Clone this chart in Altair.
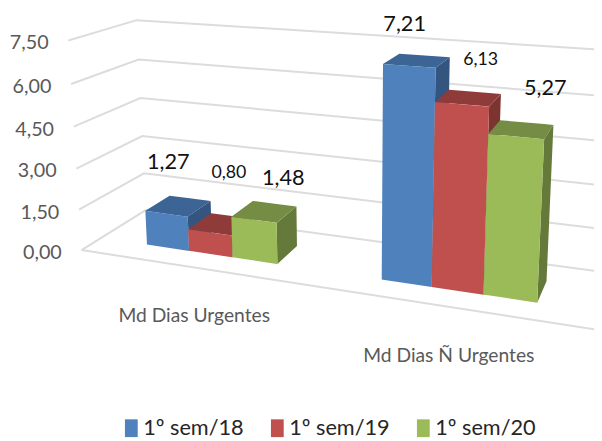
import altair as alt
import numpy as np
import pandas as pd

categories = ["Md Dias Urgentes", "Md Dias Ñ Urgentes"]
series = ["1º sem/18", "1º sem/19", "1º sem/20"]
values_18 = [1.27, 7.21]
values_19 = [0.80, 6.13]
values_20 = [1.48, 5.27]
ticks = [0.0, 1.5, 3.0, 4.5, 6.0, 7.5]
tick_labels = ["0,00", "1,50", "3,00", "4,50", "6,00", "7,50"]
value_labels = [["1,27", "7,21"], ["0,80", "6,13"], ["1,48", "5,27"]]

front_colors = ["#4F81BD", "#C0504D", "#9BBB59"]
top_colors = ["#3C6494", "#8F3B39", "#748C43"]
side_colors = ["#34557F", "#7C3432", "#657A3A"]
FONT = "Lato"

W, H = 594, 433
OX, OY = 8, 8
# Observed page-to-picture shrink, compensated in the projection
SHRINK, SHIFT_X, SHIFT_Y = 0.987, 0.5, 2.25

# Bar layout in scene units (u along the category axis, w along depth)
U0, BW, CAT, W0, W1 = 0.10766, 0.09576, 0.4982, 0.28523, 0.68047

# Calibration of the 3D camera: box corners, then bar corners as
# (group, bar edge, 0 front / 1 back, value, picture x, picture y)
box = [(0, 0, 0, 82, 250), (0, 0, 7.5, 69, 39), (0, 1, 0, 146, 209), (0, 1, 7.5, 137, 19), (1, 0, 0, 595, 329)]
bars = [
    (0, 0, 0, 0, 148, 244), (0, 1, 0, 0, 189, 250), (0, 0, 0, 1.27, 146, 210), (0, 1, 0, 1.27, 189, 217),
    (0, 0, 1, 1.27, 170, 196), (0, 1, 1, 1.27, 211, 201), (0, 1, 0, 0.8, 189, 228), (0, 2, 0, 0.8, 232, 234),
    (0, 2, 0, 0, 232, 257), (0, 2, 0, 1.48, 232, 217), (0, 3, 0, 1.48, 278, 223), (0, 3, 0, 0, 278, 263),
    (0, 2, 1, 1.48, 253, 201), (0, 3, 1, 1.48, 297, 206), (0, 3, 1, 0, 297, 242),
    (1, 0, 0, 7.21, 383, 63), (1, 1, 0, 7.21, 436, 67), (1, 0, 0, 0, 382, 279), (1, 1, 0, 0, 432, 287),
    (1, 0, 1, 7.21, 399, 53), (1, 1, 1, 7.21, 450, 57), (1, 1, 0, 6.13, 436, 101), (1, 2, 0, 6.13, 490, 106),
    (1, 2, 0, 0, 484, 294), (1, 1, 1, 6.13, 452, 89), (1, 2, 1, 6.13, 501, 94), (1, 2, 0, 5.27, 488, 133),
    (1, 3, 0, 5.27, 545, 137), (1, 3, 0, 0, 538, 302), (1, 2, 1, 5.27, 502, 120), (1, 3, 1, 5.27, 553, 125),
    (1, 3, 1, 0, 548, 280),
]


def bu(g, s):
    return g * CAT + U0 + s * BW


cal = list(box) + [(bu(g, e), W1 if back else W0, v, x, y) for g, e, back, v, x, y in bars]
p = np.zeros(11)
for it in range(6):
    A, b = [], []
    for u, w, v, x, y in cal:
        d = p[8] * u + p[9] * w + p[10] * v + 1
        A.append(np.array([u, w, v, 1, 0, 0, 0, 0, -x * u, -x * w, -x * v]) / d)
        b.append(x / d)
        A.append(np.array([0, 0, 0, 0, u, w, v, 1, -y * u, -y * w, -y * v]) / d)
        b.append(y / d)
    p = np.linalg.lstsq(np.array(A, float), np.array(b, float), rcond=None)[0]


def proj(u, w, v):
    d = p[8] * u + p[9] * w + p[10] * v + 1
    x = (p[0] * u + p[1] * w + p[2] * v + p[3]) / d
    y = (p[4] * u + p[5] * w + p[6] * v + p[7]) / d
    return (x - SHIFT_X) / SHRINK - OX, (y - SHIFT_Y) / SHRINK - OY


def poly_rows(pts, fid, **extra):
    xs = sorted({round(r[0], 3) for r in pts})
    n = len(pts)
    rows = []
    for x in xs:
        ys = []
        for i in range(n):
            (x1, y1), (x2, y2) = pts[i], pts[(i + 1) % n]
            lo, hi = min(x1, x2), max(x1, x2)
            if lo - 0.002 <= x <= hi + 0.002:
                if abs(x2 - x1) < 1e-6:
                    ys += [y1, y2]
                else:
                    ys.append(y1 + (y2 - y1) * (x - x1) / (x2 - x1))
        rows.append(dict(x=x, y=min(ys), y2=max(ys), fid=fid, **extra))
    return rows


vals = [values_18, values_19, values_20]
back_rows, front_rows, n = [], [], 0
for g in range(len(categories)):
    for s in range(len(series)):
        v = vals[s][g]
        a, c = bu(g, s), bu(g, s + 1)
        top = [proj(a, W0, v), proj(c, W0, v), proj(c, W1, v), proj(a, W1, v)]
        side = [proj(c, W0, 0), proj(c, W1, 0), proj(c, W1, v), proj(c, W0, v)]
        front = [proj(a, W0, 0), proj(c, W0, 0), proj(c, W0, v), proj(a, W0, v)]
        back_rows += poly_rows(side, n, col=side_colors[s]); n += 1
        back_rows += poly_rows(top, n, col=top_colors[s]); n += 1
        front_rows += poly_rows(front, n, series=series[s]); n += 1

grid_rows = []
for i, t in enumerate(ticks):
    for k, (u, w) in enumerate([(0, 0), (0, 1), (1, 1)]):
        x, y = proj(u, w, t)
        grid_rows.append(dict(x=x, y=y, line=i, k=k))
for k, (u, w) in enumerate([(0, 0), (1, 0)]):
    x, y = proj(u, w, 0)
    grid_rows.append(dict(x=x, y=y, line=99, k=k))

tick_rows = []
for t, lab in zip(ticks, tick_labels):
    x, y = proj(0, 0, t)
    tick_rows.append(dict(x=x - 20, y=y + 3, text=lab))

cat_offsets = [(-16, 63), (-8, 66)]
cat_rows = []
for g, name in enumerate(categories):
    x, y = proj(g * CAT + 0.25, W0, 0)
    cat_rows.append(dict(x=x + cat_offsets[g][0], y=y + cat_offsets[g][1], text=name))

label_off = [[(-22, -37), (-20, -32)], [(-3, -44), (6, -32)], [(9, -26), (19, -35)]]
label_size = [[22, 22], [18, 18], [22, 22]]
label_rows = []
for s in range(3):
    for g in range(2):
        x, y = proj(bu(g, s + 0.5), W1, vals[s][g])
        label_rows.append(dict(x=x + label_off[s][g][0], y=y + label_off[s][g][1],
                               text=value_labels[s][g], size=label_size[s][g]))

X = alt.X("x:Q", scale=alt.Scale(domain=[0, W], range=[0, W], nice=False, zero=False), axis=None)
Y = alt.Y("y:Q", scale=alt.Scale(domain=[0, H], range=[0, H], nice=False, zero=False), axis=None)
Y2 = alt.Y2("y2:Q")

grid = alt.Chart(pd.DataFrame(grid_rows)).mark_line(color="#DCDCDC", strokeWidth=2, clip=True).encode(
    x=X, y=Y, detail="line:N", order="k:Q")
backs = alt.Chart(pd.DataFrame(back_rows)).mark_area(orient="vertical").encode(
    x=X, y=Y, y2=Y2, detail="fid:N", color=alt.Color("col:N", scale=None))
fronts = alt.Chart(pd.DataFrame(front_rows)).mark_area(orient="vertical", opacity=1).encode(
    x=X, y=Y, y2=Y2, detail="fid:N",
    color=alt.Color("series:N",
                    scale=alt.Scale(domain=series, range=front_colors),
                    legend=alt.Legend(title=None, orient="none", legendX=114, legendY=412,
                                      direction="horizontal", columns=3, columnPadding=23,
                                      symbolType="M-0.81,-1.125H0.81V1.125H-0.81Z", symbolSize=256,
                                      labelFont=FONT, labelFontSize=22,
                                      labelColor="#262626", labelOffset=1, labelLimit=200,
                                      symbolStrokeWidth=0, symbolOpacity=1)))
ticks_t = alt.Chart(pd.DataFrame(tick_rows)).mark_text(
    align="right", baseline="middle", font=FONT, fontSize=20, color="#595959").encode(x=X, y=Y, text="text:N")
cats_t = alt.Chart(pd.DataFrame(cat_rows)).mark_text(
    align="center", baseline="middle", font=FONT, fontSize=19.5, color="#595959").encode(x=X, y=Y, text="text:N")
labels_t = alt.Chart(pd.DataFrame(label_rows)).mark_text(
    align="center", baseline="middle", font=FONT, color="#111111").encode(
    x=X, y=Y, text="text:N", size=alt.Size("size:Q", scale=None, legend=None))

chart = alt.layer(grid, backs, fronts, ticks_t, cats_t, labels_t).resolve_scale(color="independent").properties(
    width=W, height=H, padding=0, autosize=alt.AutoSizeParams(type="none"),
).configure_view(stroke=None)

chart.save("out.html", embed_options={"renderer": "svg", "actions": False})
